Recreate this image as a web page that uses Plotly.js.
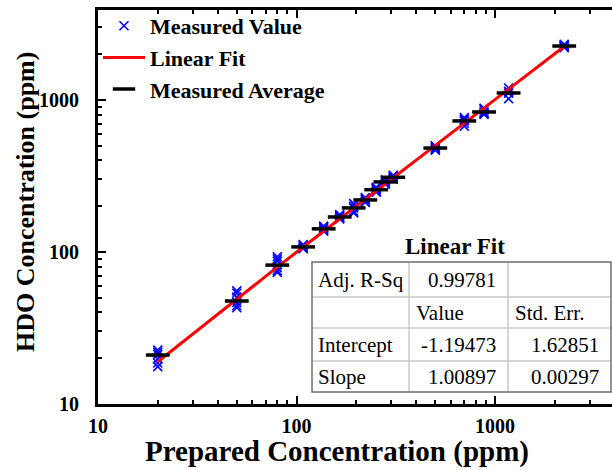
<!DOCTYPE html>
<html>
<head>
<meta charset="utf-8">
<script src="https://cdn.plot.ly/plotly-3.0.1.min.js"></script>
<style>html,body{margin:0;padding:0;background:#fff;}#chart{width:612px;height:470px;}</style>
</head>
<body>
<div id="chart"></div>
<script>
// ---- data ----
const prepared = [20, 50, 80, 108, 137, 165, 194, 222, 252, 280, 307, 500, 700, 880, 1170, 2230];
const averages = [21, 47.6, 82, 108, 142, 170, 195, 220, 257, 289, 310, 483, 728, 834, 1112, 2265];
const measuredValues = [
  [22.6, 21.9, 21.2, 19.8, 18.6, 17.6],
  [55.5, 53.5, 50.5, 46.5, 44.5, 43],
  [93, 90, 87, 79, 75.5, 73.5],
  [112, 110, 108, 106, 105],
  [148, 145, 142, 139, 137],
  [176, 173, 170, 167, 165],
  [208, 200, 195, 186, 181],
  [228, 224, 220, 215, 212],
  [266, 262, 257, 251, 247],
  [298, 294, 289, 283, 279],
  [320, 316, 310, 305, 301],
  [500, 492, 483, 475, 468],
  [765, 745, 728, 700, 672],
  [880, 860, 834, 820, 805],
  [1200, 1140, 1110, 1020],
  [2320, 2280, 2260, 2240, 2210]
];
const fitX = [20, 50, 80, 108, 137, 165, 194, 222, 252, 280, 307, 500, 700, 880, 1170, 2230];
const fitY = [18.98, 49.25, 79.52, 107.77, 137.03, 165.28, 194.54, 222.80, 253.07, 281.32, 308.56, 503.29, 705.09, 886.70, 1179.30, 2248.81];
const seriesNames = ["Measured Value", "Linear Fit", "Measured Average"];
const xTitle = "Prepared Concentration (ppm)";
const yTitle = "HDO Concentration (ppm)";
const majorTicks = [10, 100, 1000];
const minorTicks = [20, 30, 40, 50, 60, 70, 80, 90, 200, 300, 400, 500, 600, 700, 800, 900, 2000, 3000];
const tableTitle = "Linear Fit";
const tableRows = [
  ["Adj. R-Sq", "0.99781", ""],
  ["", "Value", "Std. Err."],
  ["Intercept", "-1.19473", "1.62851"],
  ["Slope", "1.00897", "0.00297"]
];

// ---- build ----
const mx = [], my = [];
measuredValues.forEach((grp, i) => grp.forEach(v => { mx.push(prepared[i]); my.push(v); }));

const L = 98, T = 10, W = 514, H = 394;
const px = x => (x - L) / W;
const py = y => (T + H - y) / H;
const serif = "'Liberation Serif', 'Times New Roman', serif";

const traces = [
  {x: mx, y: my, type: 'scatter', mode: 'markers', name: seriesNames[0],
   marker: {symbol: 'x-thin-open', size: 9, color: '#0000ff', line: {color: '#0000ff', width: 1.6}}},
  {x: fitX, y: fitY, type: 'scatter', mode: 'lines', name: seriesNames[1],
   line: {color: '#ff0000', width: 3}},
  {x: prepared, y: averages, type: 'scatter', mode: 'markers', name: seriesNames[2],
   marker: {symbol: 'line-ew-open', size: 17, color: '#000', line: {color: '#000', width: 3.5}}}
];

const axisCommon = {
  type: 'log', showgrid: false, zeroline: false, showline: true, linecolor: '#000', linewidth: 3,
  ticks: 'inside', ticklen: 8, tickwidth: 2, tickcolor: '#000',
  tickvals: majorTicks, ticktext: majorTicks.map(String),
  tickfont: {family: serif, size: 20, color: '#000', weight: 'bold'},
  minor: {tickvals: minorTicks, ticks: 'inside', ticklen: 4, tickwidth: 2, tickcolor: '#000', showgrid: false}
};

const shapes = [];
const annotations = [];
// axis titles
annotations.push({xref: 'paper', yref: 'paper', x: px(337), y: py(451), text: '<b>' + xTitle + '</b>',
  showarrow: false, xanchor: 'center', yanchor: 'middle', borderpad: 0, font: {family: serif, size: 29, color: '#000'}});
annotations.push({xref: 'paper', yref: 'paper', x: px(25), y: py(202), text: '<b>' + yTitle + '</b>', textangle: -90,
  showarrow: false, xanchor: 'center', yanchor: 'middle', font: {family: serif, size: 26, color: '#000'}});

// table
const colX = [312, 409, 508, 611];
const rowY = [262, 297, 328, 361, 392];
shapes.push({type: 'rect', xref: 'paper', yref: 'paper', x0: px(colX[0]), x1: px(colX[3]), y0: py(rowY[0]), y1: py(rowY[4]),
  fillcolor: '#fff', line: {width: 0}, layer: 'above'});
for (let i = 1; i < rowY.length - 1; i++)
  shapes.push({type: 'line', xref: 'paper', yref: 'paper', x0: px(colX[0]), x1: px(colX[3]), y0: py(rowY[i]), y1: py(rowY[i]),
    line: {color: '#c8c8c8', width: 1.5}, layer: 'above'});
for (let j = 1; j < colX.length - 1; j++)
  shapes.push({type: 'line', xref: 'paper', yref: 'paper', x0: px(colX[j]), x1: px(colX[j]), y0: py(rowY[0]), y1: py(rowY[4]),
    line: {color: '#c8c8c8', width: 1.5}, layer: 'above'});
shapes.push({type: 'rect', xref: 'paper', yref: 'paper', x0: px(colX[0]), x1: px(colX[3]), y0: py(rowY[0]), y1: py(rowY[4]),
  line: {color: '#6e6e6e', width: 1.5}, layer: 'above'});

annotations.push({xref: 'paper', yref: 'paper', x: px(455), y: py(246), text: '<b>' + tableTitle + '</b>', showarrow: false,
  xanchor: 'center', yanchor: 'middle', font: {family: serif, size: 23, color: '#000'}});
const numRe = /^-?[0-9.]+$/;
tableRows.forEach((row, r) => {
  const yc = (rowY[r] + rowY[r + 1]) / 2;
  row.forEach((txt, c) => {
    if (!txt) return;
    let x, anchor;
    if (c === 0) { x = colX[0] + 4; anchor = 'left'; }
    else if (numRe.test(txt)) { x = colX[c + 1] - 10; anchor = 'right'; }
    else { x = colX[c] + 5; anchor = 'left'; }
    annotations.push({xref: 'paper', yref: 'paper', x: px(x), y: py(yc), text: txt, showarrow: false,
      xanchor: anchor, yanchor: 'middle', font: {family: serif, size: 21, color: '#000'}});
  });
});

const layout = {
  width: 612, height: 470,
  margin: {l: L, r: 0, t: T, b: 470 - T - H, pad: 0},
  paper_bgcolor: '#fff', plot_bgcolor: '#fff',
  showlegend: true,
  legend: {x: 0.0, y: py(5), xanchor: 'left', yanchor: 'top', bgcolor: 'rgba(0,0,0,0)',
    font: {family: serif, size: 22, color: '#000', weight: 'bold'}, tracegroupgap: 0, itemwidth: 42},
  xaxis: Object.assign({}, axisCommon, {range: [1, 3.589], mirror: 'ticks', ticklabelstandoff: 2}),
  yaxis: Object.assign({}, axisCommon, {range: [1, 3.592], mirror: false, ticklabelstandoff: 12}),
  shapes: shapes, annotations: annotations
};

Plotly.newPlot('chart', traces, layout, {staticPlot: true, displayModeBar: false});
</script>
</body>
</html>
